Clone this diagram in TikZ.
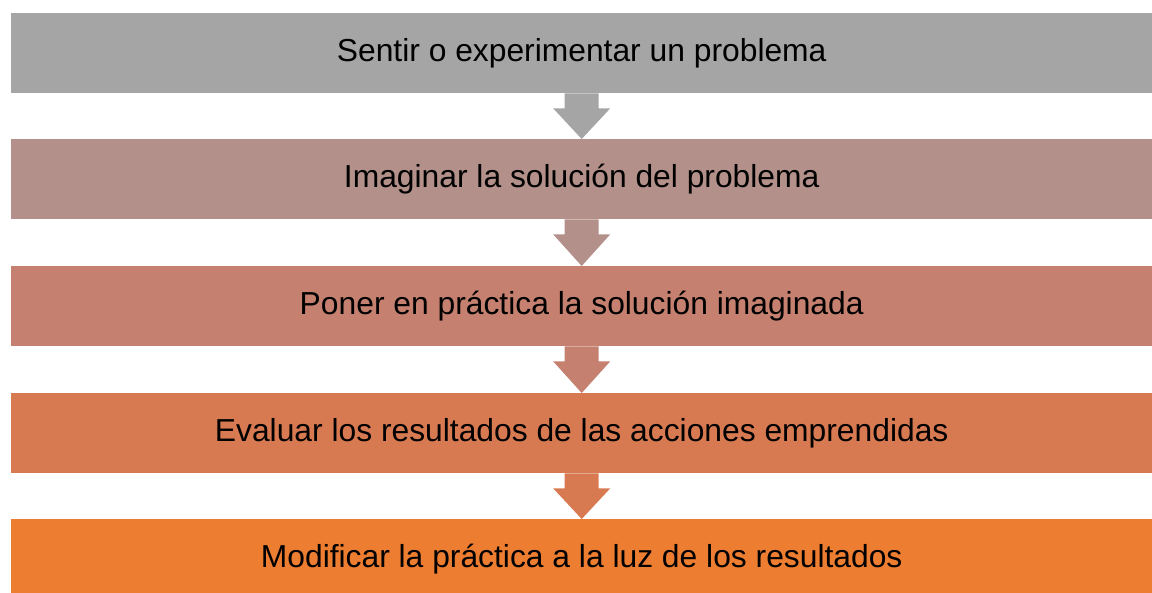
\documentclass[tikz,border=0pt]{standalone}
\usepackage{fontspec}
\setmainfont{Liberation Sans}
\usetikzlibrary{calc}
\definecolor{colA}{HTML}{A5A5A5}
\definecolor{colB}{HTML}{B39089}
\definecolor{colC}{HTML}{C5806F}
\definecolor{colD}{HTML}{D87A51}
\definecolor{colE}{HTML}{ED7D31}
\tikzset{
  stage/.style={minimum width=1141pt, minimum height=80pt, inner sep=0pt, anchor=north west,
    font=\fontsize{31.8}{38}\selectfont, text=black},
}
\newcommand{\stagearrow}[3]{%
\fill[#3] ($(#1.south)+(-17,0)$) -- ($(#1.south)+(17,0)$) -- ($(#1.south)+(17,15)$)
  -- ($(#1.south)+(28.5,15)$) -- (#2.north) -- ($(#1.south)+(-28.5,15)$)
  -- ($(#1.south)+(-17,15)$) -- cycle;}
\begin{document}
\begin{tikzpicture}[x=1pt,y=-1pt]
\useasboundingbox (0,0) rectangle (1152,593);
\node[stage, fill=colA] (s1) at (11,13) {Sentir o experimentar un problema};
\node[stage, fill=colB] (s2) at (11,139) {Imaginar la solución del problema};
\node[stage, fill=colC] (s3) at (11,266) {Poner en práctica la solución imaginada};
\node[stage, fill=colD] (s4) at (11,393) {Evaluar los resultados de las acciones emprendidas};
\node[stage, fill=colE] (s5) at (11,519) {Modificar la práctica a la luz de los resultados};
\stagearrow{s1}{s2}{colA}
\stagearrow{s2}{s3}{colB}
\stagearrow{s3}{s4}{colC}
\stagearrow{s4}{s5}{colD}
\end{tikzpicture}
\end{document}
